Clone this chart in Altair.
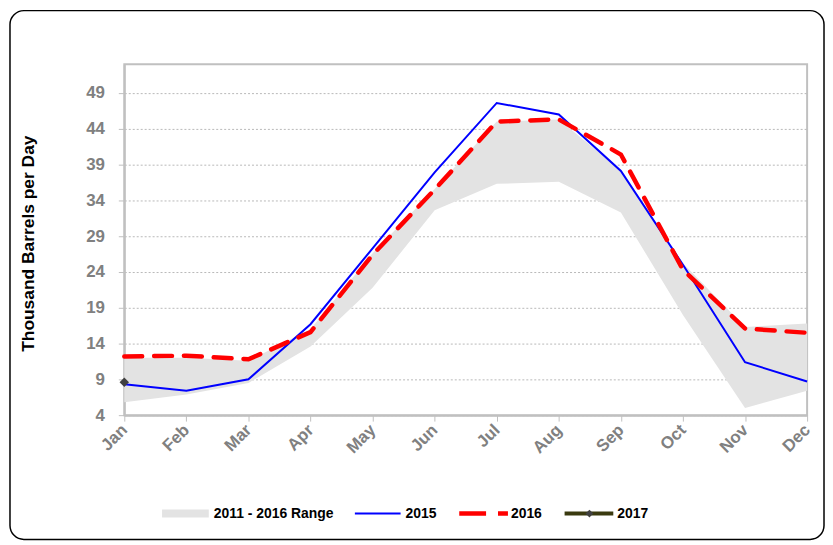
import altair as alt
import pandas as pd

months = ["Jan", "Feb", "Mar", "Apr", "May", "Jun", "Jul", "Aug", "Sep", "Oct", "Nov", "Dec"]
range_low = [5.8, 6.9, 8.5, 13.6, 21.8, 32.6, 36.3, 36.6, 32.3, 18.0, 5.0, 7.4]
range_high = [12.0, 12.0, 11.6, 16.0, 26.6, 35.6, 45.0, 45.3, 38.2, 25.2, 16.3, 16.8]
s2015 = [8.3, 7.4, 9.0, 16.7, 27.3, 37.9, 47.6, 46.0, 38.1, 25.0, 11.4, 8.7]
s2016 = [12.2, 12.3, 11.8, 15.6, 26.4, 35.5, 45.0, 45.3, 40.4, 24.3, 16.1, 15.5]
months_2017 = ["Jan"]
s2017 = [8.6]
y_ticks = [4, 9, 14, 19, 24, 29, 34, 39, 44, 49]

df = pd.DataFrame({"month": months, "low": range_low, "high": range_high,
                   "s2015": s2015, "s2016": s2016})
df17 = pd.DataFrame({"month": months_2017, "s2017": s2017})
one = pd.DataFrame({"k": [0]})

FONT = "Liberation Sans"
GREY = "#808080"
BAND = "#e3e3e3"

x_scale = alt.Scale(type="point", padding=0)
y_scale = alt.Scale(domain=[4, 53], nice=False, zero=False)
x_axis = alt.Axis(title=None, labelAngle=-45, labelAlign="right",
                  labelBaseline="middle", labelPadding=6, tickSize=6, grid=False,
                  labelFont=FONT, labelFontWeight="bold", labelFontSize=17,
                  labelColor=GREY, labelOverlap=False)
y_axis = alt.Axis(title="Thousand Barrels per Day", values=y_ticks,
                  labelPadding=14, tickSize=6, labelFont=FONT,
                  labelFontWeight="bold", labelFontSize=17, labelColor=GREY,
                  labelOverlap=False)


def xe():
    return alt.X("month:O", sort=months, scale=x_scale, axis=x_axis)


def ye(field):
    return alt.Y(field, scale=y_scale, axis=y_axis)


band = alt.Chart(df).mark_area(color=BAND, opacity=1).encode(
    x=xe(), y=ye("low:Q"), y2="high:Q")
line15 = alt.Chart(df).mark_line(color="#0000ff", strokeWidth=2).encode(
    x=xe(), y=ye("s2015:Q"))
line16 = alt.Chart(df).mark_line(color="#ff0000", strokeWidth=4.5,
                                 strokeDash=[18, 12], strokeCap="round").encode(
    x=xe(), y=ye("s2016:Q"))
pt17 = alt.Chart(df17).mark_point(shape="diamond", filled=True, color="#404040",
                                  size=90, opacity=1).encode(
    x=xe(), y=ye("s2017:Q"))

# outer rounded frame
frame = alt.Chart(one).mark_rect(fill=None, stroke="black", strokeWidth=1.5,
                                 cornerRadius=14).encode(
    x=alt.value(-115), x2=alt.value(704), y=alt.value(-54), y2=alt.value(478))

# legend
LY = 452
leg_sw = alt.Chart(one).mark_rect(color=BAND).encode(
    x=alt.value(38), x2=alt.value(85), y=alt.value(LY - 4), y2=alt.value(LY + 4))
leg_15 = alt.Chart(one).mark_rule(color="#0000ff", strokeWidth=2).encode(
    x=alt.value(232), x2=alt.value(278), y=alt.value(LY))
leg_16 = alt.Chart(one).mark_rule(color="#ff0000", strokeWidth=4.5,
                                  strokeDash=[27, 12]).encode(
    x=alt.value(337), x2=alt.value(386), y=alt.value(LY))
leg_17 = alt.Chart(one).mark_rule(color="#3a3a10", strokeWidth=4).encode(
    x=alt.value(443), x2=alt.value(492), y=alt.value(LY))
leg_17p = alt.Chart(one).mark_point(shape="diamond", filled=True, color="#404040",
                                    size=60, opacity=1).encode(
    x=alt.value(468), y=alt.value(LY))
leg_labels = ["2011 - 2016 Range", "2015", "2016", "2017"]
leg_x = [90, 283, 389, 496]
leg_text = [alt.Chart(one).mark_text(text=t, align="left", baseline="middle",
                                     font=FONT, fontWeight="bold", fontSize=14,
                                     color="black").encode(
    x=alt.value(xx), y=alt.value(LY)) for t, xx in zip(leg_labels, leg_x)]

chart = alt.layer(band, line15, line16, pt17, frame, leg_sw, leg_15, leg_16,
                  leg_17, leg_17p, *leg_text).properties(
    width=687, height=353,
    autosize=alt.AutoSizeParams(type="none"),
    padding={"left": 117, "top": 55, "right": 18, "bottom": 127},
    background="white",
).configure_view(
    stroke="#c0c0c0", strokeWidth=2
).configure_axis(
    tickColor="#c0c0c0", domainColor="#c0c0c0", domainWidth=2,
    titleFont=FONT, titleFontWeight="bold", titleColor="black",
).configure_axisY(
    grid=True, gridColor="#b8b8b8", gridDash=[2, 2],
    gridWidth=1, titleFontSize=17.5, titleAngle=270, titleX=-96, titleY=180,
    titleAlign="center", titleBaseline="middle",
)

chart.save("out.html", embed_options={"renderer": "svg", "actions": False})
